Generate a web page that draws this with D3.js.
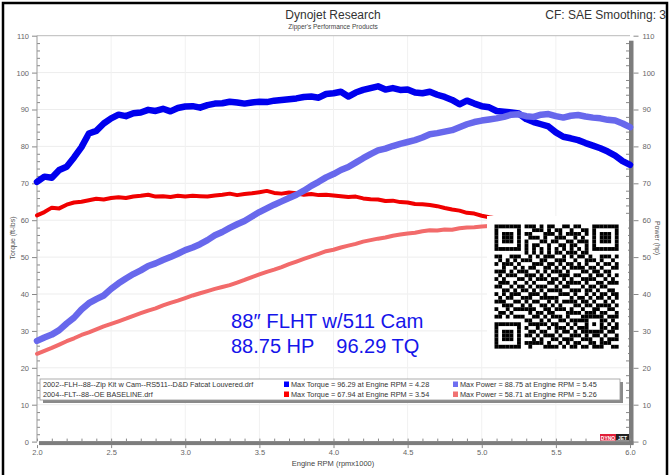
<!DOCTYPE html>
<html>
<head>
<meta charset="utf-8">
<script src="https://cdn.jsdelivr.net/npm/d3@7"></script>
<style>
  body { margin: 0; background: #fff; }
  text { font-family: "Liberation Sans", Arial, sans-serif; }
</style>
</head>
<body>
<div id="chart"></div>
<script>

// Dyno runs, sampled every 50 rpm from 2000 rpm (values in ft-lbs / hp)
var rpmStart = 2.0;
var rpmStep = 0.05;

var zipTorque = [70.4, 71.8, 71.5, 73.6, 74.5, 77.0, 79.8, 83.5, 84.2, 86.2,
  87.6, 88.6, 88.2, 89.0, 89.2, 89.9, 89.6, 90.2, 89.5, 90.4,
  90.8, 90.9, 90.5, 91.2, 91.6, 91.7, 92.1, 91.9, 91.6, 91.9,
  92.1, 92.0, 92.4, 92.6, 92.8, 93.0, 93.4, 93.5, 93.2, 94.2,
  94.4, 94.8, 93.5, 94.6, 95.3, 95.8, 96.29, 95.4, 95.8, 95.3,
  95.4, 94.6, 94.4, 94.8, 94.0, 93.4, 92.6, 91.4, 92.4, 91.6,
  90.9, 90.6, 89.6, 89.4, 89.2, 88.9, 87.4, 86.6, 86.0, 85.4,
  83.8, 82.6, 82.2, 81.7, 80.9, 80.2, 79.5, 78.6, 77.5, 76.0, 75.0];

var zipPower = [27.3, 28.2, 29.0, 30.2, 32.0, 33.6, 35.8, 37.5, 38.6, 39.6,
  41.4, 42.9, 44.2, 45.4, 46.4, 47.6, 48.3, 49.2, 50.0, 50.9,
  51.9, 52.6, 53.5, 54.6, 55.9, 56.8, 57.9, 58.9, 59.8, 61.0,
  62.2, 63.2, 64.2, 65.1, 66.0, 66.9, 68.0, 69.3, 70.4, 71.6,
  72.5, 73.6, 74.4, 75.6, 76.8, 77.9, 78.9, 79.4, 80.1, 80.7,
  81.2, 81.7, 82.4, 83.3, 83.6, 84.0, 84.4, 85.2, 86.0, 86.6,
  87.0, 87.3, 87.6, 88.0, 88.6, 88.7, 88.2, 88.0, 88.6, 88.75,
  88.2, 87.8, 88.3, 88.5, 88.1, 87.8, 87.6, 87.2, 87.0, 86.2, 85.2];

var baseTorque = [61.3, 62.2, 63.4, 63.2, 64.2, 64.8, 65.0, 65.4, 65.8, 65.6,
  66.0, 66.2, 66.0, 66.4, 66.6, 66.9, 66.4, 66.5, 66.3, 66.6,
  66.4, 66.6, 66.5, 66.4, 66.7, 66.9, 67.2, 66.8, 67.1, 67.3,
  67.6, 67.94, 67.4, 67.2, 67.5, 67.3, 66.9, 67.1, 66.8, 66.9,
  66.7, 66.5, 66.3, 66.4, 65.9, 65.7, 65.6, 65.2, 65.3, 64.9,
  64.8, 64.4, 64.3, 64.1, 63.8, 63.3, 62.9, 62.6, 62.0, 61.8,
  61.2, 60.8, 60.5, 60.2, 60.0, 59.6, 59.3, 59.0, 58.6, 58.2, 57.7];

var basePower = [23.8, 24.6, 25.4, 26.3, 27.2, 28.0, 28.9, 29.6, 30.4, 31.2,
  31.9, 32.6, 33.3, 34.1, 34.8, 35.5, 36.1, 36.9, 37.6, 38.2,
  38.9, 39.6, 40.2, 40.8, 41.4, 41.9, 42.4, 43.1, 43.8, 44.6,
  45.3, 46.0, 46.6, 47.3, 48.1, 48.8, 49.5, 50.2, 50.9, 51.6,
  52.0, 52.6, 53.1, 53.6, 54.2, 54.6, 55.0, 55.3, 55.8, 56.1,
  56.4, 56.6, 57.0, 57.3, 57.2, 57.5, 57.4, 57.8, 58.0, 58.1,
  58.3, 58.4, 58.5, 58.6, 58.6, 58.71, 58.6, 58.5, 58.3, 58.0, 57.6];

// Axis ticks
var xTicks = [2.0, 2.5, 3.0, 3.5, 4.0, 4.5, 5.0, 5.5, 6.0];
var xTickLabels = ["2.0", "2.5", "3.0", "3.5", "4.0", "4.5", "5.0", "5.5", "6.0"];
var yTicks = [0, 10, 20, 30, 40, 50, 60, 70, 80, 90, 100, 110];

// Legend rows
var runNames = ["2002--FLH--88--Zip Kit w Cam--RS511--D&D Fatcat Louvered.drf",
  "2004--FLT--88--OE BASELINE.drf"];
var torqueNotes = ["Max Torque = 96.29 at Engine RPM = 4.28",
  "Max Torque = 67.94 at Engine RPM = 3.54"];
var powerNotes = ["Max Power = 88.75 at Engine RPM = 5.45",
  "Max Power = 58.71 at Engine RPM = 5.26"];

// QR code modules (structure patterns are laid over these in the code)
var qrRows = [
  "10110100111 01011001101 10010111010",
  "01101011001 11010110010 01101001011",
  "11010010110 00111010111 10110100100",
  "00101101011 10100111001 01001011110",
  "10011010100 01101100110 11100110001",
  "01110101101 10010011011 00101101110",
  "10101101010 11101001100 10011010101",
  "00110011101 01010110111 01100101010",
  "11001110010 10111001010 11010011101",
  "01010101110 01100111001 00111010010",
  "10111010001 11011010110 10100101101",
  "00100111011 00110101011 11011010011",
  "11101001100 10101110100 01101101100",
  "01011100111 01010011101 10010110101",
  "10100011010 11101101010 01111001010",
  "01110110101 00011010111 10100110111",
  "11001011010 11100101100 01011011000",
  "00110101101 01011110011 10110100110",
  "10101110011 10100011101 00101011011",
  "01011001110 01111100010 11010110101",
  "11100110101 10010101111 01101001010",
  "00111011010 01101010001 10110111101",
  "10010101111 00110111010 01001100110",
  "01101010010 11011000111 10111011001",
  "11010111001 10101110100 01100100111",
  "00101100110 01010011011 11011011010",
  "10110011011 11101100101 00100110101",
  "01001110100 10010111010 11111001011",
  "11110101011 01100101101 01010110110",
  "00011010110 10111010011 10101101001",
  "10101101001 01001101110 01110010111",
  "01110010111 11010010101 10011011100",
  "11011101010 00111101011 01101110011"];

var svgW = 670;
var svgH = 475;
var plot = {left: 37, right: 630, top: 35.7, bottom: 441.6};

var svg = d3.select("#chart")
            .append("svg")
              .attr("width", svgW)
              .attr("height", svgH);

svg.append("rect")
    .attr("width", svgW)
    .attr("height", svgH)
    .attr("fill", "#fff");

// Scales
var xScale = d3.scaleLinear()
                .domain([2, 6])
                .range([plot.left, plot.right]);

var yScale = d3.scaleLinear()
                .domain([0, 110])
                .range([plot.bottom, plot.top]);

// Faint grid
var grid = svg.append("g").attr("class", "grid");
grid.selectAll(".hgrid")
    .data(yTicks.slice(1, -1))
    .enter()
    .append("line")
      .attr("x1", plot.left)
      .attr("x2", plot.right)
      .attr("y1", function(d) { return yScale(d); })
      .attr("y2", function(d) { return yScale(d); })
      .attr("stroke", "#ededed");
grid.selectAll(".vgrid")
    .data(xTicks.slice(1, -1))
    .enter()
    .append("line")
      .attr("x1", function(d) { return xScale(d); })
      .attr("x2", function(d) { return xScale(d); })
      .attr("y1", plot.top)
      .attr("y2", plot.bottom)
      .attr("stroke", "#f1f1f1");

// Top border of plot
svg.append("line")
    .attr("x1", plot.left)
    .attr("x2", plot.right)
    .attr("y1", plot.top)
    .attr("y2", plot.top)
    .attr("stroke", "#bbb");

// Left axis
var minorY = d3.range(0, 111, 2).filter(function(d) { return d % 10 != 0; });
var leftAxis = svg.append("g")
                  .attr("transform", "translate(" + plot.left + ",0)")
                  .call(d3.axisLeft(yScale).tickValues(yTicks).tickSize(5).tickPadding(3));
svg.append("g")
    .attr("transform", "translate(" + plot.left + ",0)")
    .call(d3.axisRight(yScale).tickValues(minorY).tickSize(3).tickFormat(""));

// Right axis (shadowed bar)
svg.append("rect")
    .attr("x", plot.right - 1)
    .attr("y", plot.top + 5)
    .attr("width", 4.5)
    .attr("height", plot.bottom - plot.top - 2)
    .attr("fill", "#7d7d7d");
var rightAxis = svg.append("g")
                   .attr("transform", "translate(" + (plot.right + 3.5) + ",0)")
                   .call(d3.axisRight(yScale).tickValues(yTicks).tickSize(5).tickPadding(4));
svg.append("g")
    .attr("transform", "translate(" + (plot.right - 1) + ",0)")
    .call(d3.axisLeft(yScale).tickValues(minorY).tickSize(3).tickFormat(""));

// Bottom axis (shadowed bar)
svg.append("rect")
    .attr("x", plot.left + 2)
    .attr("y", plot.bottom - 0.5)
    .attr("width", plot.right - plot.left + 1.5)
    .attr("height", 4)
    .attr("fill", "#7d7d7d");
var minorX = d3.range(20, 61, 1).map(function(d) { return d / 10; });
svg.append("g")
    .attr("transform", "translate(0," + (plot.bottom - 0.5) + ")")
    .call(d3.axisTop(xScale).tickValues(minorX).tickSize(2.5).tickFormat(""));
var bottomAxis = svg.append("g")
                    .attr("transform", "translate(0," + (plot.bottom + 3.5) + ")")
                    .call(d3.axisBottom(xScale)
                            .tickValues(xTicks)
                            .tickSize(3)
                            .tickPadding(2)
                            .tickFormat(function(d, i) { return xTickLabels[i]; }));

// Axis styling
svg.selectAll(".domain").remove();
svg.selectAll(".tick line").attr("stroke", "#888");
svg.selectAll(".tick text")
    .attr("fill", "#666")
    .style("font-size", "7.5px")
    .style("font-family", "'Liberation Sans', Arial, sans-serif");
svg.append("line")
    .attr("x1", plot.left)
    .attr("x2", plot.left)
    .attr("y1", plot.top)
    .attr("y2", plot.bottom)
    .attr("stroke", "#999");

// Axis titles
svg.append("text")
    .attr("transform", "translate(15,238) rotate(-90)")
    .attr("text-anchor", "middle")
    .attr("fill", "#555")
    .style("font-size", "7px")
    .text("Torque (ft-lbs)");
svg.append("text")
    .attr("transform", "translate(655,238) rotate(90)")
    .attr("text-anchor", "middle")
    .attr("fill", "#555")
    .style("font-size", "7px")
    .text("Power (hp)");
svg.append("text")
    .attr("x", 333)
    .attr("y", 466)
    .attr("text-anchor", "middle")
    .attr("fill", "#444")
    .style("font-size", "7.5px")
    .text("Engine RPM (rpmx1000)");

// Titles
svg.append("text")
    .attr("x", 333)
    .attr("y", 19)
    .attr("text-anchor", "middle")
    .attr("fill", "#333")
    .style("font-size", "12px")
    .text("Dynojet Research");
svg.append("text")
    .attr("x", 333)
    .attr("y", 29)
    .attr("text-anchor", "middle")
    .attr("fill", "#444")
    .style("font-size", "6.5px")
    .text("Zipper's Performance Products");
svg.append("text")
    .attr("x", 666)
    .attr("y", 19)
    .attr("text-anchor", "end")
    .attr("fill", "#333")
    .style("font-size", "12px")
    .text("CF: SAE Smoothing: 3");

// Curves
var line = d3.line()
             .x(function(d, i) { return xScale(rpmStart + i * rpmStep); })
             .y(function(d) { return yScale(d); });

var curves = [
  {values: basePower, color: "#f26b6b", width: 4},
  {values: baseTorque, color: "#f00000", width: 4},
  {values: zipTorque, color: "#0000ee", width: 6.5},
  {values: zipPower, color: "#6868ec", width: 6.5}
];

svg.selectAll(".curve")
    .data(curves)
    .enter()
    .append("path")
      .attr("class", "curve")
      .attr("d", function(d) { return line(d.values); })
      .attr("fill", "none")
      .attr("stroke", function(d) { return d.color; })
      .attr("stroke-width", function(d) { return d.width; })
      .attr("stroke-linejoin", "round")
      .attr("stroke-linecap", "round");

// Annotation
svg.append("text")
    .attr("x", 231)
    .attr("y", 328)
    .attr("fill", "#1515ea")
    .style("font-size", "20.3px")
    .text("88\u2033 FLHT w/511 Cam");
svg.append("text")
    .attr("x", 231)
    .attr("y", 353)
    .attr("fill", "#1515ea")
    .style("font-size", "20px")
    .attr("xml:space", "preserve")
    .style("white-space", "pre")
    .text("88.75 HP    96.29 TQ");

// Legend
var legend = svg.append("g").attr("class", "legend");
legend.append("rect")
    .attr("x", 43)
    .attr("y", 382)
    .attr("width", 580)
    .attr("height", 21)
    .attr("fill", "#8a8a8a");
legend.append("rect")
    .attr("x", 40)
    .attr("y", 379)
    .attr("width", 580)
    .attr("height", 21)
    .attr("fill", "#fff")
    .attr("stroke", "#999")
    .attr("stroke-width", 0.8);

var legendColors = [["#0000ff", "#6e6ef0"], ["#ff0000", "#f07272"]];
runNames.forEach(function(name, i) {
  var yRow = 387 + i * 10;
  legend.append("text")
      .attr("x", 43)
      .attr("y", yRow)
      .attr("fill", "#333")
      .style("font-size", "7.3px")
      .text(name);
  legend.append("rect")
      .attr("x", 284)
      .attr("y", yRow - 5.5)
      .attr("width", 5)
      .attr("height", 5.5)
      .attr("fill", legendColors[i][0]);
  legend.append("text")
      .attr("x", 291)
      .attr("y", yRow)
      .attr("fill", "#333")
      .style("font-size", "7.3px")
      .text(torqueNotes[i]);
  legend.append("rect")
      .attr("x", 453)
      .attr("y", yRow - 5.5)
      .attr("width", 5)
      .attr("height", 5.5)
      .attr("fill", legendColors[i][1]);
  legend.append("text")
      .attr("x", 460)
      .attr("y", yRow)
      .attr("fill", "#333")
      .style("font-size", "7.3px")
      .text(powerNotes[i]);
});

// Small dynojet badge
svg.append("rect")
    .attr("x", 600).attr("y", 434).attr("width", 16).attr("height", 6.5)
    .attr("fill", "#e0203a");
svg.append("rect")
    .attr("x", 616).attr("y", 434).attr("width", 13).attr("height", 6.5)
    .attr("fill", "#222");
svg.append("text")
    .attr("x", 608).attr("y", 439.5).attr("text-anchor", "middle")
    .attr("fill", "#fff").style("font-size", "5px").style("font-weight", "bold")
    .text("DYNO");
svg.append("text")
    .attr("x", 622.5).attr("y", 439.5).attr("text-anchor", "middle")
    .attr("fill", "#fff").style("font-size", "5px").style("font-weight", "bold")
    .text("JET");

// QR code
var qrN = 33;
var qrGrid = qrRows.map(function(r) {
  return r.replace(/ /g, "").split("").map(function(c) { return c == "1"; });
});

function placeFinder(r0, c0) {
  for (var i = -1; i <= 7; i++) {
    for (var j = -1; j <= 7; j++) {
      var r = r0 + i, c = c0 + j;
      if (r < 0 || c < 0 || r >= qrN || c >= qrN) continue;
      var ring = (i == 0 || i == 6 || j == 0 || j == 6) && i >= 0 && i <= 6 && j >= 0 && j <= 6;
      var core = i >= 2 && i <= 4 && j >= 2 && j <= 4;
      qrGrid[r][c] = ring || core;
    }
  }
}
placeFinder(0, 0);
placeFinder(0, qrN - 7);
placeFinder(qrN - 7, 0);
for (var k = 8; k < qrN - 8; k++) {
  qrGrid[6][k] = (k % 2 == 0);
  qrGrid[k][6] = (k % 2 == 0);
}
for (var i = -2; i <= 2; i++) {
  for (var j = -2; j <= 2; j++) {
    qrGrid[26 + i][26 + j] = (Math.abs(i) == 2 || Math.abs(j) == 2 || (i == 0 && j == 0));
  }
}

var qrBox = {x: 487, y: 216, size: 141};
var qrModule = 3.76;
var qrX = 494.5, qrY = 224.5;

svg.append("rect")
    .attr("x", qrBox.x)
    .attr("y", qrBox.y)
    .attr("width", qrBox.size)
    .attr("height", qrBox.size + 2)
    .attr("fill", "#fff");

var cells = [];
qrGrid.forEach(function(row, r) {
  row.forEach(function(on, c) {
    if (on) cells.push({r: r, c: c});
  });
});

svg.append("g")
    .attr("class", "qr")
    .selectAll("rect")
    .data(cells)
    .enter()
    .append("rect")
      .attr("x", function(d) { return qrX + d.c * qrModule; })
      .attr("y", function(d) { return qrY + d.r * qrModule; })
      .attr("width", qrModule + 0.05)
      .attr("height", qrModule + 0.05)
      .attr("fill", "#000");

// Outer frame
svg.append("rect")
    .attr("x", 3)
    .attr("y", 3)
    .attr("width", 664)
    .attr("height", 500)
    .attr("fill", "none")
    .attr("stroke", "#000")
    .attr("stroke-width", 2.5);

</script>
</body>
</html>
